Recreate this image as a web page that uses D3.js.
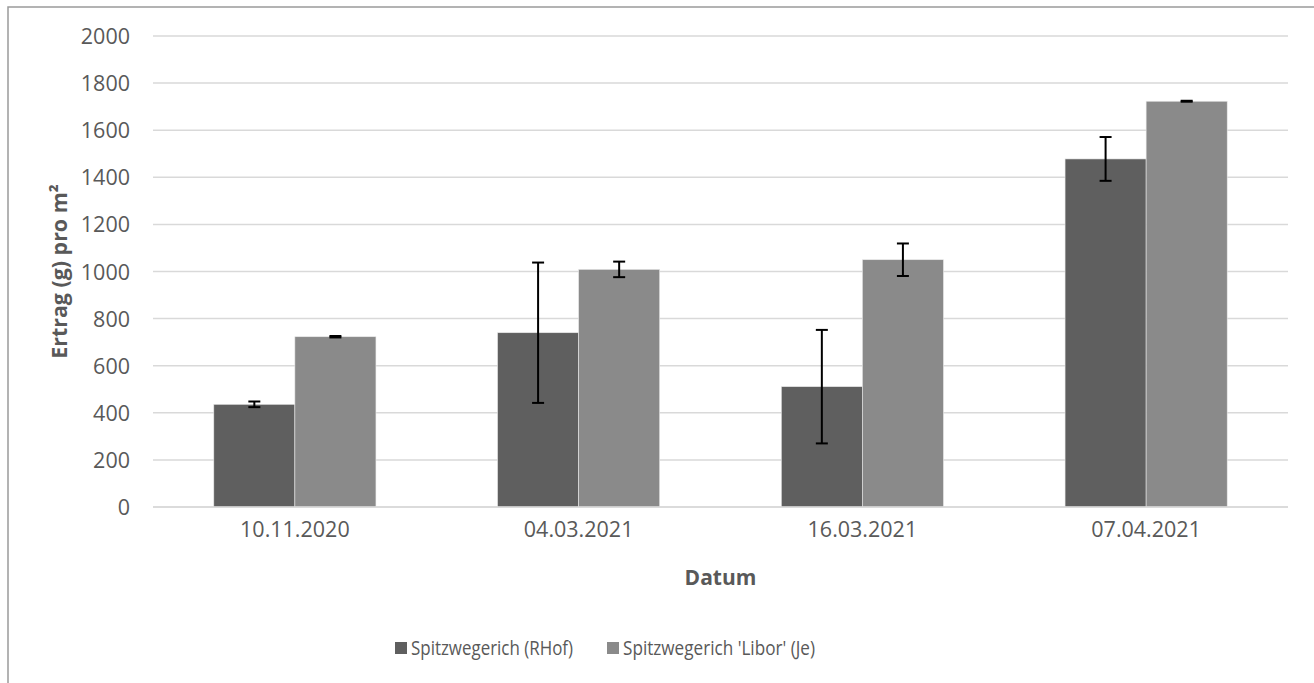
<!DOCTYPE html>
<html>
<head>
<meta charset="utf-8">
<script src="https://cdn.jsdelivr.net/npm/d3@7"></script>
<style>
  html, body { margin: 0; padding: 0; background: #fff; }
  svg { display: block; }
  text { font-family: "Open Sans", sans-serif; fill: #595959; }
</style>
</head>
<body>
<svg id="chart" width="1314" height="683"></svg>
<script>
const categories = ["10.11.2020", "04.03.2021", "16.03.2021", "07.04.2021"];
const seriesNames = ["Spitzwegerich (RHof)", "Spitzwegerich 'Libor' (Je)"];
const rhofValues = [436, 740, 511, 1478];
const rhofErrors = [12, 298, 241, 93];
const liborValues = [723, 1009, 1050, 1723];
const liborErrors = [3, 33, 69, 2];
const yTicks = [0, 200, 400, 600, 800, 1000, 1200, 1400, 1600, 1800, 2000];
const colors = ["#5f5f5f", "#8a8a8a"];

const svg = d3.select("#chart");
const W = 1314, H = 683;
const plot = { left: 153, right: 1288, top: 36, bottom: 507 };

// outer border (chart area, cropped on right/bottom)
svg.append("rect").attr("x", 8).attr("y", 7).attr("width", W + 10).attr("height", H + 10)
  .attr("fill", "#fff").attr("stroke", "#9a9a9a").attr("stroke-width", 1.5);

const x0 = d3.scaleBand().domain(categories).range([plot.left, plot.right]).paddingInner(0).paddingOuter(0);
const y = d3.scaleLinear().domain([0, 2000]).range([plot.bottom, plot.top]);

// bar width: band = 2 bars + 1.5 gap
const bw = x0.bandwidth() / 3.5;
const x1 = d3.scaleBand().domain([0, 1]).range([0.75 * bw, 2.75 * bw]).padding(0);

// gridlines
const grid = svg.append("g");
grid.selectAll("line").data(yTicks).join("line")
  .attr("x1", plot.left).attr("x2", plot.right)
  .attr("y1", d => y(d)).attr("y2", d => y(d))
  .attr("stroke", "#d9d9d9").attr("stroke-width", 1.5);

// y tick labels via axis
const yAxis = svg.append("g").attr("transform", `translate(${plot.left - 23},0)`)
  .call(d3.axisLeft(y).tickValues(yTicks).tickSize(0).tickPadding(0).tickFormat(d3.format("d")));
yAxis.select(".domain").remove();
yAxis.selectAll("text").attr("font-size", 21.5).attr("fill", "#595959")
  .style("font-family", '"Open Sans", sans-serif').attr("dy", "0.35em");

// x tick labels
const xAxis = svg.append("g").attr("transform", `translate(0,${plot.bottom + 12})`)
  .call(d3.axisBottom(x0).tickSize(0).tickPadding(0));
xAxis.select(".domain").remove();
xAxis.selectAll("text").attr("font-size", 21.5).attr("fill", "#595959")
  .style("font-family", '"Open Sans", sans-serif').attr("dy", "0.85em");

const data = categories.map((c, i) => ({
  cat: c,
  vals: [
    { s: 0, v: rhofValues[i], e: rhofErrors[i] },
    { s: 1, v: liborValues[i], e: liborErrors[i] }
  ]
}));

const groups = svg.append("g").selectAll("g").data(data).join("g")
  .attr("transform", d => `translate(${x0(d.cat)},0)`);

groups.selectAll("rect").data(d => d.vals).join("rect")
  .attr("x", d => x1(d.s)).attr("width", x1.bandwidth())
  .attr("y", d => y(d.v)).attr("height", d => y(0) - y(d.v))
  .attr("fill", d => colors[d.s]).attr("stroke", "#e8e8e8").attr("stroke-width", 0.6);

// baseline
svg.append("line").attr("x1", plot.left).attr("x2", plot.right)
  .attr("y1", y(0)).attr("y2", y(0)).attr("stroke", "#d9d9d9").attr("stroke-width", 1.5);

// error bars
const eb = groups.selectAll("g.err").data(d => d.vals).join("g").attr("class", "err");
const cx = d => x1(d.s) + x1.bandwidth() / 2;
eb.append("line").attr("x1", cx).attr("x2", cx)
  .attr("y1", d => y(d.v + d.e)).attr("y2", d => y(d.v - d.e))
  .attr("stroke", "#000").attr("stroke-width", 2);
eb.append("line").attr("x1", d => cx(d) - 6).attr("x2", d => cx(d) + 6)
  .attr("y1", d => y(d.v + d.e)).attr("y2", d => y(d.v + d.e))
  .attr("stroke", "#000").attr("stroke-width", 2);
eb.append("line").attr("x1", d => cx(d) - 6).attr("x2", d => cx(d) + 6)
  .attr("y1", d => y(d.v - d.e)).attr("y2", d => y(d.v - d.e))
  .attr("stroke", "#000").attr("stroke-width", 2);

// axis titles
svg.append("text").attr("x", (plot.left + plot.right) / 2).attr("y", 578)
  .attr("text-anchor", "middle").attr("dy", "0.35em")
  .attr("font-size", 21).attr("font-weight", "bold").text("Datum");
svg.append("text").attr("transform", `translate(59,${(plot.top + plot.bottom) / 2}) rotate(-90)`)
  .attr("text-anchor", "middle").attr("dy", "0.35em")
  .attr("font-size", 21.4).attr("font-weight", "bold").text("Ertrag (g) pro m²");

// legend
const legendItems = [
  { name: seriesNames[0], color: colors[0], x: 395, len: 162 },
  { name: seriesNames[1], color: colors[1], x: 607, len: 192 }
];
const lg = svg.append("g").selectAll("g").data(legendItems).join("g")
  .attr("transform", d => `translate(${d.x},648)`);
lg.append("rect").attr("x", 0).attr("y", -6).attr("width", 12).attr("height", 12)
  .attr("fill", d => d.color);
lg.append("text").attr("x", 16).attr("dy", "0.35em").attr("font-size", 20)
  .attr("textLength", d => d.len).attr("lengthAdjust", "spacingAndGlyphs")
  .text(d => d.name);
</script>
</body>
</html>
